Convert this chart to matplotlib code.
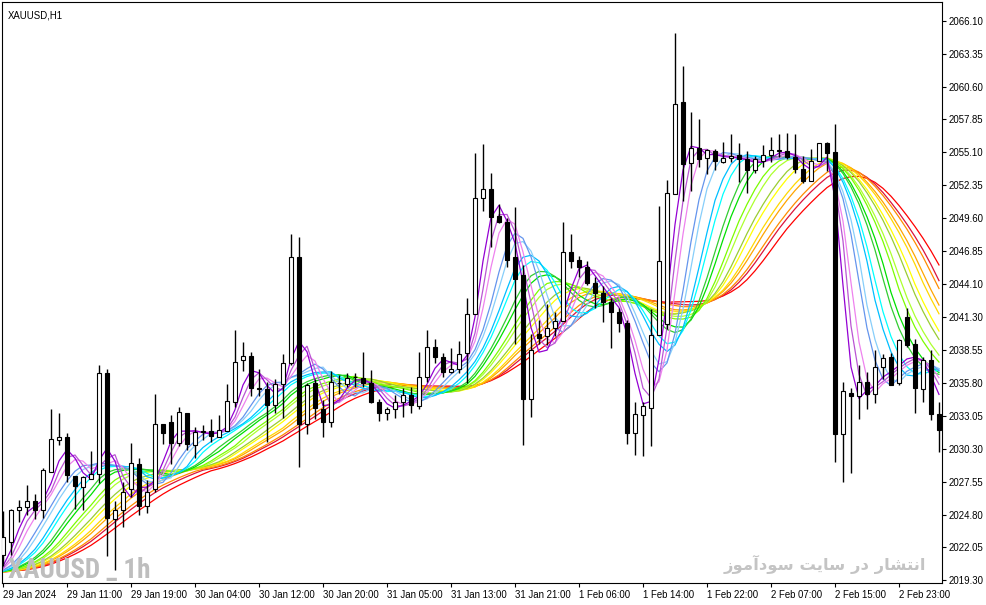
import numpy as np
import pandas as pd
import matplotlib
matplotlib.use("Agg")
import matplotlib.pyplot as plt
from matplotlib import font_manager as fm

# ---------------- data ----------------
opens = [2021.4, 2022.5, 2025.2, 2025.4, 2025.9, 2025.2, 2028.4, 2031.0, 2031.3, 2028.0,
         2027.1, 2027.8, 2028.2, 2036.6, 2024.4, 2025.2, 2026.9, 2029.0, 2025.5, 2026.9,
         2032.4, 2032.5, 2030.8, 2033.3, 2030.6, 2031.7, 2031.8, 2031.3, 2031.8, 2034.2,
         2037.7, 2038.1, 2035.4, 2035.3, 2034.0, 2035.7, 2037.5, 2046.3, 2032.4, 2035.8,
         2033.6, 2032.5, 2035.8, 2035.7, 2036.3, 2036.2, 2035.8, 2034.2, 2033.3, 2033.6,
         2034.2, 2034.8, 2033.9, 2036.3, 2038.8, 2038.0, 2036.7, 2037.0, 2038.3, 2041.6,
         2051.3, 2052.0, 2049.8, 2049.3, 2046.3, 2044.8, 2034.5, 2039.9, 2039.7, 2040.4,
         2041.0, 2046.8, 2046.1, 2045.5, 2044.2, 2043.3, 2042.6, 2041.7, 2040.8, 2031.6,
         2033.1, 2033.7, 2039.8, 2040.7, 2051.6, 2059.3, 2054.2, 2055.5, 2054.6, 2055.2,
         2054.3, 2054.6, 2054.9, 2054.5, 2053.6, 2054.4, 2054.9, 2055.2, 2055.2, 2054.7,
         2053.7, 2052.7, 2054.4, 2055.85, 2055.1, 2031.5, 2035.0, 2034.7, 2035.9, 2034.9,
         2037.1, 2038.0, 2035.8, 2041.3, 2039.1, 2035.3, 2037.7, 2033.2]
highs = [2025.1, 2025.3, 2026.0, 2027.3, 2026.5, 2028.7, 2033.6, 2033.3, 2031.6, 2028.0,
         2028.0, 2030.1, 2037.3, 2037.0, 2025.9, 2027.5, 2030.8, 2029.5, 2027.7, 2034.9,
         2032.4, 2033.1, 2033.8, 2033.3, 2032.1, 2032.3, 2032.8, 2033.1, 2035.7, 2040.2,
         2039.2, 2038.4, 2037.0, 2035.9, 2036.1, 2038.2, 2048.3, 2048.0, 2035.8, 2036.1,
         2034.4, 2036.8, 2036.5, 2036.6, 2036.6, 2038.4, 2036.9, 2034.5, 2033.8, 2034.8,
         2035.4, 2035.5, 2038.4, 2040.2, 2039.5, 2038.3, 2038.7, 2039.3, 2042.9, 2055.0,
         2055.8, 2053.4, 2050.8, 2049.6, 2050.5, 2045.7, 2039.9, 2041.1, 2042.4, 2041.7,
         2049.3, 2048.3, 2046.4, 2046.0, 2044.7, 2043.9, 2042.9, 2042.1, 2041.1, 2034.2,
         2034.2, 2042.0, 2050.6, 2052.8, 2065.1, 2062.3, 2058.5, 2057.9, 2055.4, 2055.4,
         2056.0, 2056.6, 2055.9, 2055.2, 2054.8, 2055.7, 2056.4, 2056.6, 2056.7, 2056.6,
         2054.8, 2055.4, 2055.9, 2056.0, 2057.5, 2035.9, 2035.4, 2037.3, 2036.7, 2038.6,
         2038.2, 2038.3, 2039.5, 2042.1, 2039.5, 2038.0, 2038.6, 2034.2]
lows = [2020.5, 2021.4, 2024.2, 2024.8, 2024.4, 2024.5, 2028.4, 2030.6, 2027.5, 2025.3,
        2025.2, 2027.8, 2027.4, 2021.3, 2020.2, 2023.8, 2026.3, 2024.8, 2024.9, 2026.7,
        2030.7, 2029.0, 2030.5, 2030.2, 2029.5, 2031.0, 2030.9, 2031.3, 2031.8, 2033.8,
        2036.8, 2034.7, 2034.7, 2030.9, 2033.3, 2032.9, 2037.3, 2028.8, 2031.5, 2032.8,
        2031.3, 2032.1, 2034.9, 2035.5, 2035.5, 2035.5, 2034.1, 2032.6, 2032.7, 2032.9,
        2033.0, 2033.3, 2033.6, 2035.9, 2037.5, 2036.3, 2036.6, 2036.6, 2035.8, 2041.6,
        2050.2, 2047.2, 2049.2, 2045.5, 2039.1, 2030.6, 2033.0, 2039.1, 2039.0, 2039.7,
        2041.0, 2045.4, 2044.7, 2044.0, 2042.1, 2040.9, 2038.7, 2040.1, 2030.7, 2029.8,
        2029.7, 2030.5, 2039.8, 2040.3, 2051.6, 2051.0, 2051.9, 2053.9, 2053.3, 2053.6,
        2054.2, 2054.3, 2052.6, 2051.7, 2053.4, 2053.9, 2054.3, 2054.7, 2054.5, 2053.4,
        2052.5, 2052.7, 2054.4, 2053.5, 2029.2, 2027.5, 2028.3, 2032.8, 2033.6, 2034.1,
        2036.1, 2035.6, 2035.6, 2038.8, 2033.3, 2034.2, 2032.7, 2030.0]
closes = [2022.9, 2025.2, 2025.4, 2025.9, 2025.2, 2028.5, 2031.1, 2031.3, 2028.1, 2027.2,
          2027.9, 2028.2, 2036.6, 2024.5, 2025.2, 2026.7, 2029.1, 2025.5, 2026.7, 2032.4,
          2031.6, 2030.8, 2033.4, 2030.7, 2031.7, 2031.8, 2031.4, 2031.9, 2034.3, 2037.6,
          2038.1, 2035.4, 2035.3, 2034.0, 2035.7, 2037.5, 2046.3, 2032.4, 2035.6, 2033.7,
          2032.5, 2035.9, 2035.8, 2036.2, 2036.3, 2035.8, 2034.2, 2033.3, 2033.6, 2034.2,
          2034.8, 2034.0, 2036.3, 2038.8, 2038.0, 2036.7, 2037.0, 2038.2, 2041.6, 2051.3,
          2052.0, 2049.7, 2049.3, 2046.1, 2044.5, 2034.5, 2038.6, 2039.6, 2040.4, 2041.0,
          2046.8, 2046.0, 2045.5, 2044.2, 2043.3, 2042.6, 2041.7, 2040.8, 2031.6, 2033.2,
          2033.9, 2039.8, 2046.0, 2051.7, 2059.1, 2054.1, 2055.5, 2054.5, 2055.3, 2054.4,
          2054.6, 2054.8, 2054.5, 2053.6, 2054.5, 2054.9, 2055.3, 2055.25, 2054.7, 2053.7,
          2052.7, 2054.4, 2055.85, 2055.0, 2031.5, 2035.1, 2034.7, 2035.9, 2034.9, 2037.1,
          2037.9, 2035.6, 2039.4, 2039.0, 2035.4, 2037.7, 2033.2, 2031.9]

# price level the rainbow comes from at the left edge
pre_level = 2020.0

# rainbow: total lengths of the smoothing (fast -> slow) and colours
ma_lengths = [4, 5, 6, 8, 9, 11, 12, 14, 15, 17, 18, 20, 21, 23, 24, 26, 27, 29]
ma_colors = ['#9400D3', '#BA55D3', '#EE82EE', '#6495ED', '#87CEFA', '#00BFFF',
             '#00FFFF', '#32CD32', '#00E000', '#7CFC00', '#ADFF2F', '#9ACD32',
             '#FFFF00', '#FFD700', '#FFA500', '#FF8C00', '#DC143C', '#FF0000']

tick_pos = [0, 8, 16, 24, 32, 40, 48, 56, 64, 72, 80, 88, 96, 104, 112]
tick_labels = ['29 Jan 2024', '29 Jan 11:00', '29 Jan 19:00', '30 Jan 04:00',
               '30 Jan 12:00', '30 Jan 20:00', '31 Jan 05:00', '31 Jan 13:00',
               '31 Jan 21:00', '1 Feb 06:00', '1 Feb 14:00', '1 Feb 22:00',
               '2 Feb 07:00', '2 Feb 15:00', '2 Feb 23:00']
price_ticks = [2066.10, 2063.35, 2060.60, 2057.85, 2055.10, 2052.35, 2049.60,
               2046.85, 2044.10, 2041.30, 2038.55, 2035.80, 2033.05, 2030.30,
               2027.55, 2024.80, 2022.05, 2019.30]

symbol_title = 'XAUUSD,H1'
watermark = 'XAUUSD _ 1h'
# "انتشار در سایت سودآموز" in Arabic presentation forms, visual order
persian_note = '\uFEAF\uFEEE\uFEE3\uFE81\uFEA9\uFEEE\uFEB3 \uFE96\uFEF3\uFE8E\uFEB3 \uFEAD\uFEA9 \uFEAD\uFE8E\uFEB8\uFE98\uFEE7\uFE8D'

# ---------------- figure ----------------
W, H = 987, 605
fig = plt.figure(figsize=(W / 100, H / 100), dpi=100)
fig.patch.set_facecolor('white')
ax_l, ax_r, ax_t, ax_b = 2, 941.7, 2, 583.3
ax = fig.add_axes([ax_l / W, 1 - ax_b / H, (ax_r - ax_l) / W, (ax_b - ax_t) / H])
ax.set_facecolor('white')

n = len(closes)
idx = np.arange(n)
o = np.array(opens); h = np.array(highs); l = np.array(lows); c = np.array(closes)

# rainbow moving averages (double SMA of close)
pad = 40
s = pd.Series(np.concatenate([np.full(pad, pre_level), c]))
for L, col in zip(ma_lengths[::-1], ma_colors[::-1]):
    a = (L + 2) // 2
    b = L + 1 - a
    ma = s.rolling(a, min_periods=1).mean().rolling(b, min_periods=1).mean().to_numpy()[pad:]
    ax.plot(idx, ma, color=col, lw=0.9, zorder=2, solid_joinstyle='miter')

# candles
ax.vlines(idx, l, h, color='black', lw=1.0, zorder=3)
bull = c >= o
body_bottom = np.minimum(o, c)
body_h = np.abs(c - o)
ax.bar(idx, body_h, bottom=body_bottom, width=0.55,
       color=np.where(bull, 'white', 'black'), edgecolor='black', linewidth=0.8, zorder=4)

ax.set_xlim(-0.125, 117.34)
ax.set_ylim(2019.05, 2067.67)

tick_font = 'Liberation Sans'
ax.yaxis.tick_right()
ax.set_yticks(price_ticks)
ax.set_yticklabels([f'{v:.2f}' for v in price_ticks], fontsize=6.9, family=tick_font)
ax.set_xticks(tick_pos)
ax.set_xticklabels(tick_labels, fontsize=6.9, family=tick_font, ha='left')
ax.tick_params(axis='y', direction='out', length=3.2, width=0.8, pad=2.0, colors='black')
ax.tick_params(axis='x', direction='out', length=3.0, width=0.8, pad=2.0, colors='black')
for lab in ax.get_xticklabels():
    lab.set_horizontalalignment('left')
for sp in ax.spines.values():
    sp.set_color('black')
    sp.set_linewidth(0.8)

# texts
fig.text(8 / W, 1 - 15.5 / H, symbol_title, fontsize=6.9, family=tick_font,
         va='center', ha='left', color='black')

names = {f.name for f in fm.fontManager.ttflist}
wm_font, wm_size = 'Liberation Sans', 16
for cand, size in [('Liberation Sans Narrow', 20), ('Roboto Condensed', 19.5),
                   ('DejaVu Sans Condensed', 17.2)]:
    if cand in names:
        wm_font, wm_size = cand, size
        break
fig.text(8 / W, 1 - 578 / H, watermark, fontsize=wm_size, family=wm_font,
         fontweight='bold', color='#BEBEBE', ha='left', va='baseline', zorder=10)
fig.text(926 / W, 1 - 564 / H, persian_note, fontsize=11.8, family=['DejaVu Sans'],
         fontweight='bold', color='#C4C4C4', ha='right', va='center', zorder=10)

fig.savefig('out.png', dpi=100, facecolor='white')
